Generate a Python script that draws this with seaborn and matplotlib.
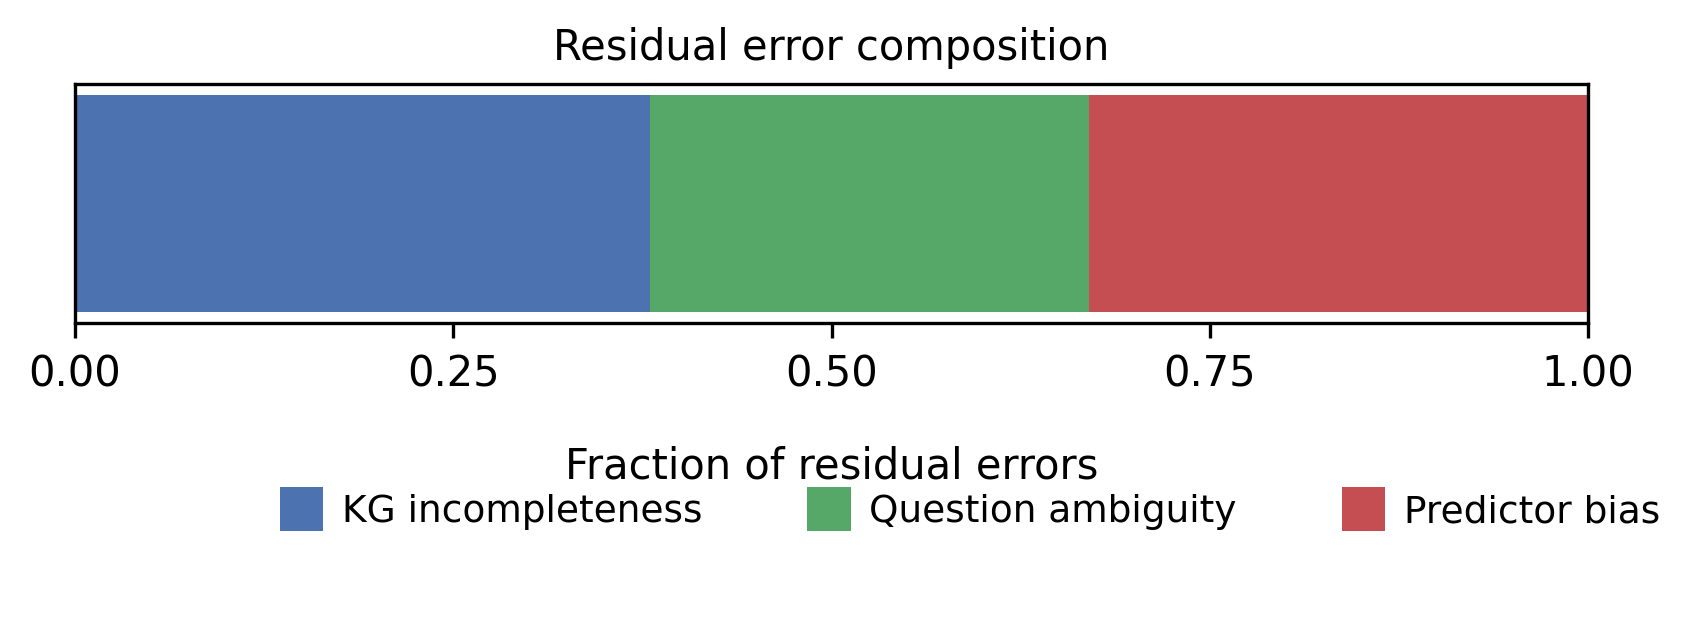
import numpy as np
import matplotlib
matplotlib.use("Agg")
import matplotlib.pyplot as plt
import seaborn as sns

# data
categories = ["KG incompleteness", "Question ambiguity", "Predictor bias"]
fractions = [0.38, 0.29, 0.33]
xticks = [0.0, 0.25, 0.5, 0.75, 1.0]

sns.set_theme(style="ticks", context="paper")
plt.rcParams["font.family"] = ["DejaVu Sans"]
plt.rcParams["text.color"] = "black"
plt.rcParams["axes.labelcolor"] = "black"
plt.rcParams["xtick.color"] = "black"
colors = sns.color_palette("deep", 4)
colors = [colors[0], colors[2], colors[3]]

fig, ax = plt.subplots(figsize=(1689 / 300, 632 / 300), dpi=300)
fig.subplots_adjust(left=75 / 1689, right=1588 / 1689, top=1 - 85 / 632, bottom=1 - 324 / 632)

left = 0.0
for name, val, c in zip(categories, fractions, colors):
    ax.barh([0], [val], left=left, height=0.8, color=c, label=name, linewidth=0)
    left += val

ax.set_xlim(0, 1)
ax.set_yticks([])
ax.set_xticks(xticks)
ax.set_xticklabels([f"{t:.2f}" for t in xticks])
ax.tick_params(axis="x", labelsize=10, length=3.5, width=0.8, pad=3.5, colors="black")
for s in ax.spines.values():
    s.set_linewidth(0.8)
    s.set_color("black")
ax.set_title("Residual error composition", fontsize=10, pad=6, color="black")
ax.set_xlabel("Fraction of residual errors", fontsize=10, labelpad=12, color="black")

fig.legend(loc="center", bbox_to_anchor=(970 / 1689, 1 - 510 / 632), ncol=3, frameon=False,
           fontsize=9, handlelength=1.15, handleheight=1.45, handletextpad=0.5,
           columnspacing=2.8)

fig.savefig("out.png", dpi=300)
